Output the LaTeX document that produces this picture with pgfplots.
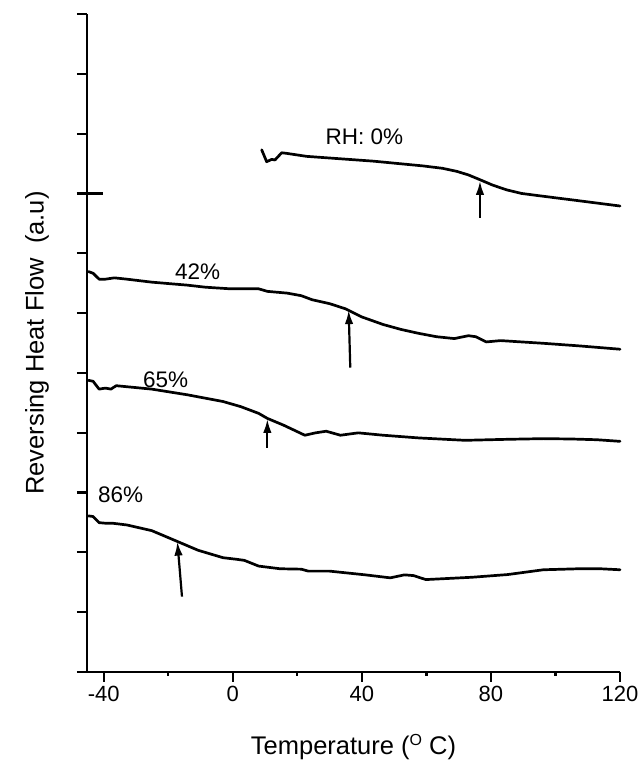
\documentclass[border=0pt]{standalone}
\usepackage{pgfplots}
\pgfplotsset{compat=1.18}
\usepackage{fontspec}
\setmainfont{Liberation Sans}
\usetikzlibrary{arrows.meta}

\begin{document}
\begin{tikzpicture}
\path[use as bounding box] (-87pt,-93pt) rectangle (553pt,672pt);
\begin{axis}[
  at={(0,0)}, anchor=south west,
  scale only axis, width=533pt, height=658pt,
  xmin=-45.2, xmax=120, ymin=0, ymax=11,
  axis lines*=left,
  axis line style={line width=2.2pt, black},
  xtick={-40,0,40,80,120},
  xticklabels={-40,0,40,80,120},
  minor xtick={-20,20,60,100},
  ytick={0,1,2,3,4,5,6,7,8,9,10,11},
  yticklabels={},
  tick align=outside,
  major tick length=10pt,
  minor tick length=4pt,
  every tick/.style={black, line width=2.2pt},
  ticklabel style={font=\fontsize{22}{26}\selectfont},
  xticklabel shift=1pt,
  xlabel={Temperature (\raisebox{9.5pt}{\fontsize{16}{16}\selectfont O} C)},
  xlabel style={at={(axis description cs:0.5,-0.1261)}, anchor=base, font=\fontsize{25.5}{30}\selectfont},
  ylabel={Reversing Heat Flow\ \ (a.u)},
  ylabel style={at={(axis description cs:-0.0938,0.5)}, anchor=center, font=\fontsize{25.5}{30}\selectfont},
  clip=false,
]
% RH 0%
\addplot[black, line width=2.7pt, line join=round, line cap=round] coordinates {
(8.94,8.73) (10.49,8.53) (12.04,8.57) (13.06,8.56) (15.14,8.68) (16.69,8.67)
(22.88,8.62) (43.52,8.54) (59.01,8.46) (65.0,8.42) (69.36,8.37) (73.0,8.31) (76.58,8.23)
(80.5,8.14) (84.86,8.06) (89.5,8.00) (95.18,7.96) (105.5,7.89) (120,7.79)};
% 42%
\addplot[black, line width=2.7pt, line join=round, line cap=round] coordinates {
(-44.77,6.694) (-43.31,6.666) (-41.45,6.567) (-39.47,6.567) (-36.71,6.589) (-32.84,6.567)
(-25.12,6.517) (-14.09,6.467) (-8.57,6.433) (-0.86,6.406) (7.98,6.406) (10.73,6.363)
(16.81,6.334) (21.21,6.291) (24.52,6.224) (30.04,6.157) (35.00,6.070) (39.96,5.936)
(46.59,5.809) (52.10,5.727) (57.62,5.661) (63.13,5.605) (68.65,5.574) (73.05,5.622)
(75.28,5.605) (78.57,5.518) (83.00,5.540) (96.23,5.495) (107.26,5.452) (120,5.396)};
% 65%
\addplot[black, line width=2.7pt, line join=round, line cap=round] coordinates {
(-44.77,4.876) (-43.31,4.860) (-41.45,4.729) (-39.47,4.746) (-37.79,4.729) (-36.15,4.786)
(-25.12,4.729) (-14.09,4.634) (-3.06,4.522) (2.46,4.436) (7.98,4.324) (10.73,4.239)
(15.69,4.127) (22.32,3.958) (25.64,3.998) (28.93,4.025) (33.36,3.958) (38.87,3.998)
(46.59,3.958) (57.62,3.913) (71.97,3.873) (85.20,3.890) (96.23,3.901) (105.06,3.895)
(112.78,3.883) (120,3.856)};
% 86%
\addplot[black, line width=2.7pt, line join=round, line cap=round] coordinates {
(-44.77,2.610) (-43.31,2.599) (-41.45,2.497) (-39.47,2.487) (-37.27,2.487) (-32.84,2.458)
(-25.12,2.363) (-17.40,2.187) (-10.77,2.035) (-3.06,1.911) (1.35,1.883) (3.58,1.866)
(7.98,1.771) (14.58,1.726) (21.21,1.719) (23.41,1.686) (30.04,1.686) (41.07,1.624)
(48.79,1.574) (53.19,1.624) (55.98,1.612) (59.82,1.545) (74.17,1.584) (85.20,1.629)
(96.23,1.709) (107.26,1.726) (113.9,1.726) (120,1.709)};
% arrows
\addplot[black, line width=2.2pt, -{Latex[length=14pt,width=8.5pt]}] coordinates {(76.6,7.59) (76.6,8.21)};
\addplot[black, line width=2.2pt, -{Latex[length=14pt,width=8.5pt]}] coordinates {(36.4,5.09) (35.9,6.05)};
\addplot[black, line width=2.2pt, -{Latex[length=14pt,width=8.5pt]}] coordinates {(10.7,3.75) (10.7,4.23)};
\addplot[black, line width=2.2pt, -{Latex[length=14pt,width=8.5pt]}] coordinates {(-15.76,1.26) (-17.19,2.18)};
% labels
\node[font=\fontsize{22.5}{26}\selectfont] at (axis cs:40.8,8.95) {RH: 0\%};
\node[font=\fontsize{22.5}{26}\selectfont] at (axis cs:-10.9,6.69) {42\%};
\node[font=\fontsize{22.5}{26}\selectfont] at (axis cs:-20.8,4.88) {65\%};
\node[font=\fontsize{22.5}{26}\selectfont] at (axis cs:-34.8,2.96) {86\%};
% long tick at 8
\draw[line width=2.2pt] ([xshift=-10pt]axis cs:-45.2,8) -- ([xshift=16pt]axis cs:-45.2,8);
\end{axis}
\end{tikzpicture}
\end{document}
